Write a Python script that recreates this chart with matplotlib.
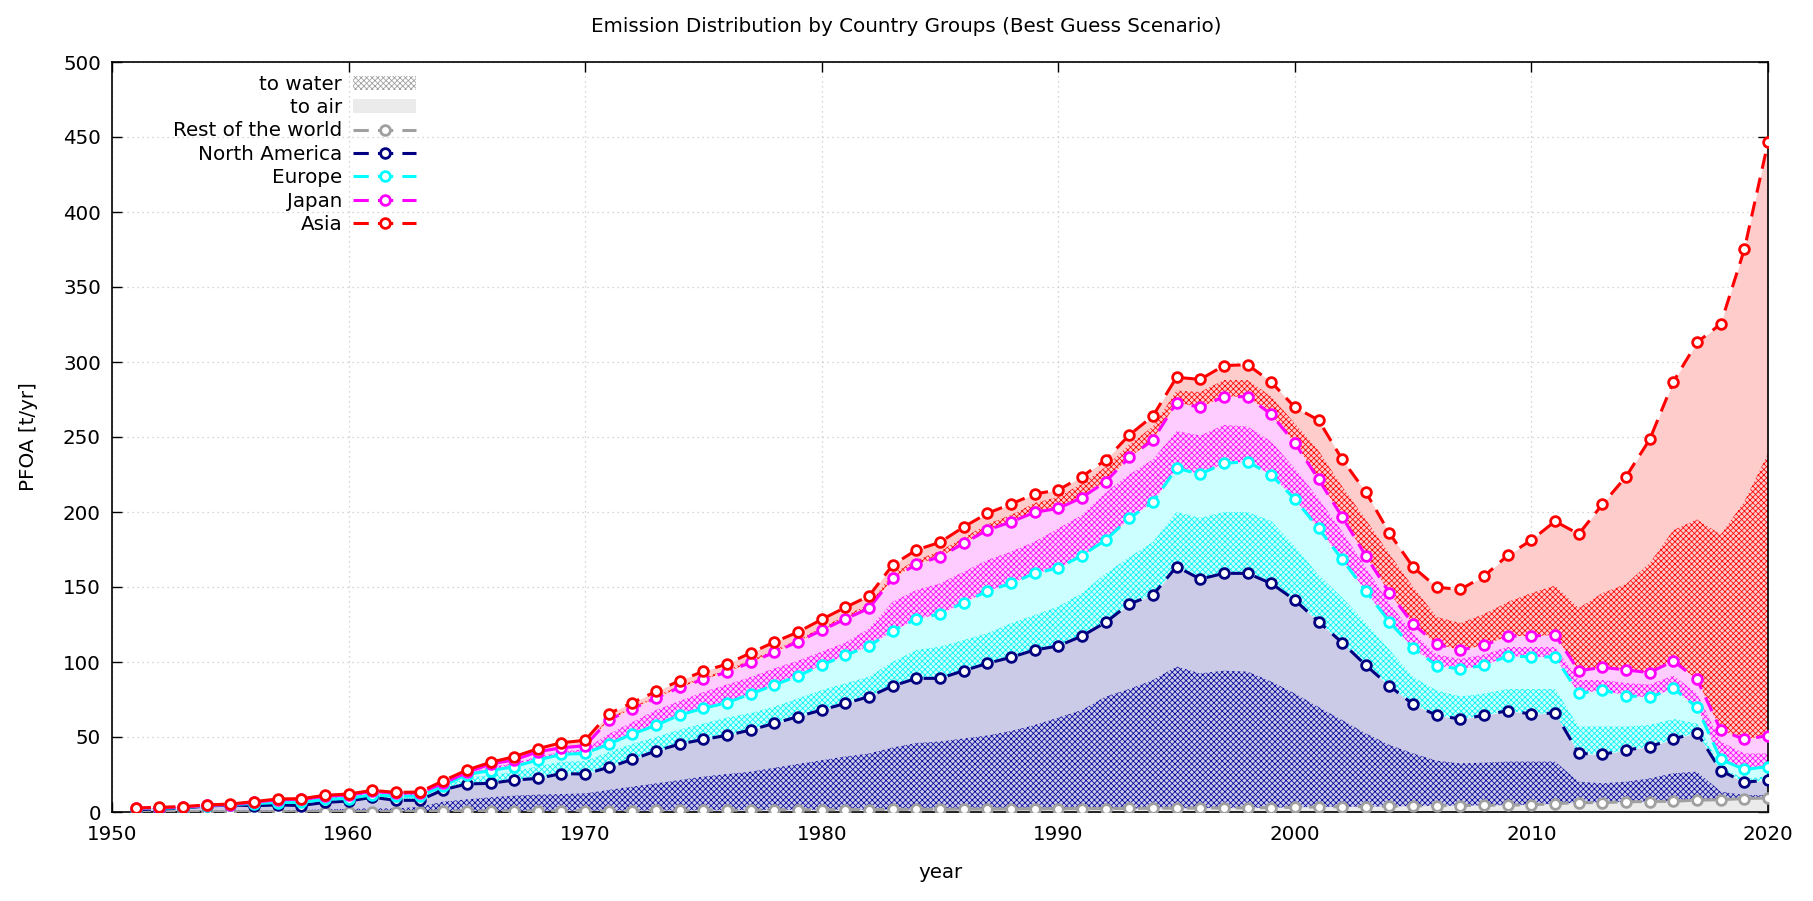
import numpy as np
import matplotlib
matplotlib.use("Agg")
import matplotlib.pyplot as plt
from matplotlib.patches import Patch
from matplotlib.lines import Line2D

# ------------------------------------------------------------
# Data (cumulative stacked values, t/yr), years 1951..2020
# ------------------------------------------------------------
years = np.arange(1951, 2021)

rest = [0.1, 0.1, 0.1, 0.2, 0.2, 0.2, 0.2, 0.2, 0.3, 0.3, 0.3, 0.3, 0.3,
        0.6, 0.7, 0.7, 0.8, 0.8, 0.9, 0.9, 1.0, 1.0, 1.1, 1.1, 1.2, 1.2, 1.3,
        1.4, 1.5, 1.5, 1.6, 1.6, 1.7, 1.8, 1.8, 1.9, 2.0, 2.0, 2.1, 2.2,
        2.3, 2.3, 2.4, 2.5, 2.6, 2.6, 2.7, 2.8, 2.9,
        3.2, 3.4, 3.5, 3.6, 3.8, 4.0, 4.2, 4.3, 4.5, 4.6,
        4.8, 5.6, 6.2, 6.3, 6.8, 7.0, 7.2, 7.9, 8.2, 9.0, 9.3]

north_america = [1.6, 2.0, 2.6, 4.0, 4.7, 4.2, 4.7, 4.3, 6.4, 7.3, 9.8, 7.8, 7.8,
                 14.8, 18.7, 19.1, 21.3, 22.4, 25.6, 25.3, 29.8, 35.1, 40.7, 45.3, 48.4, 51.1, 54.7,
                 59.1, 63.6, 68.0, 72.4, 76.9, 84.0, 89.1, 89.1, 94.2, 99.1, 103.1, 108.0, 110.7,
                 117.3, 126.4, 138.7, 144.7, 163.6, 155.3, 159.1, 159.1, 152.4,
                 141.3, 126.9, 112.9, 97.8, 84.0, 71.8, 64.4, 62.0, 64.4, 67.6,
                 65.3, 66.0, 39.1, 38.4, 41.3, 43.6, 48.7, 52.9, 27.6, 19.8, 21.3]

europe = [2.2, 2.5, 2.9, 4.3, 5.0, 5.6, 6.3, 6.4, 8.5, 9.0, 11.5, 10.5, 10.6,
          17.3, 25.0, 27.6, 30.2, 34.7, 38.4, 39.1, 45.3, 52.0, 57.8, 64.7, 69.1, 72.9, 78.7,
          84.7, 90.7, 98.0, 104.4, 110.7, 120.7, 128.7, 132.0, 139.6, 147.3, 152.4, 159.1, 162.7,
          171.0, 181.3, 195.8, 206.7, 229.1, 225.3, 232.4, 233.6, 224.7,
          208.6, 189.1, 168.4, 147.3, 126.7, 109.3, 97.6, 95.3, 97.8, 104.0,
          103.4, 103.4, 79.1, 81.3, 77.6, 76.4, 82.4, 69.8, 35.1, 28.4, 30.2]

japan = [2.5, 2.9, 3.3, 4.4, 5.0, 6.5, 8.2, 8.4, 10.5, 11.4, 13.8, 12.6, 12.8,
         19.1, 26.4, 32.0, 34.7, 40.2, 42.8, 44.2, 61.3, 68.9, 76.0, 83.1, 88.4, 93.3, 99.8,
         106.4, 113.6, 121.1, 128.7, 135.8, 155.8, 165.1, 170.2, 179.1, 188.0, 193.3, 199.8, 202.4,
         209.6, 220.2, 236.4, 248.0, 272.9, 269.8, 276.9, 276.9, 265.1,
         246.0, 221.8, 196.7, 170.7, 146.0, 125.3, 111.8, 108.0, 111.1, 117.3,
         117.3, 118.0, 94.2, 96.4, 94.7, 92.9, 100.7, 88.4, 54.7, 48.4, 50.9]

asia = [2.7, 3.1, 3.6, 4.7, 5.3, 6.9, 8.7, 8.9, 11.1, 12.0, 14.4, 13.1, 13.3,
        20.8, 28.0, 33.1, 36.9, 42.2, 46.2, 47.8, 65.6, 72.9, 80.4, 87.6, 93.8, 98.7, 106.1,
        113.3, 120.0, 128.4, 136.4, 144.0, 164.7, 174.7, 179.8, 190.0, 199.1, 205.3, 212.0, 214.7,
        223.6, 234.7, 251.3, 264.0, 289.8, 288.4, 297.6, 298.2, 286.7,
        269.8, 261.3, 235.1, 213.3, 185.8, 163.3, 149.8, 148.4, 157.3, 171.1,
        181.3, 193.8, 185.3, 205.1, 223.6, 248.4, 286.9, 313.1, 325.3, 375.1, 446.4]

# upper edge of the "to water" part inside each group's band (cumulative)
na_water = [0.5, 0.6, 0.7, 1.0, 1.1, 1.1, 1.3, 1.3, 1.8, 2.0, 2.5, 2.3, 3.5,
            6.9, 8.4, 9.8, 10.9, 11.6, 12.0, 12.4, 14.7, 16.9, 19.1, 21.3, 23.6, 25.3, 26.9,
            29.5, 32.0, 34.5, 37.0, 39.0, 43.0, 46.0, 47.0, 49.0, 51.0, 54.0, 58.0, 63.0,
            68.0, 77.0, 82.0, 88.0, 97.0, 92.4, 94.2, 93.6, 87.0,
            79.0, 70.0, 61.3, 52.4, 44.7, 39.1, 34.2, 32.4, 32.9, 33.6,
            33.6, 33.6, 20.2, 19.1, 20.2, 22.4, 25.8, 26.9, 13.6, 11.3, 11.3]

eu_water = [2.0, 2.3, 2.7, 4.2, 4.9, 5.0, 5.6, 5.5, 7.6, 8.3, 10.7, 9.3, 9.4,
            16.5, 23.0, 24.5, 27.0, 30.5, 33.5, 34.0, 40.0, 45.5, 50.0, 55.0, 59.0, 63.0, 66.0,
            70.2, 75.8, 81.3, 85.8, 90.2, 100.2, 108.0, 110.2, 114.7, 119.1, 125.8, 131.3, 137.0,
            146.0, 159.0, 170.0, 180.0, 200.0, 196.0, 200.0, 200.0, 194.0,
            177.0, 158.0, 143.0, 126.0, 108.0, 90.0, 81.0, 77.0, 79.0, 82.0,
            82.0, 82.0, 57.0, 57.0, 57.0, 58.0, 62.0, 59.0, 30.0, 22.0, 24.0]

jp_water = [2.4, 2.8, 3.2, 4.35, 5.0, 6.3, 7.8, 8.0, 10.0, 10.9, 13.2, 12.1, 12.3,
            18.5, 25.5, 30.0, 32.5, 37.0, 40.0, 42.0, 52.0, 60.0, 68.0, 74.0, 80.0, 85.0, 90.0,
            95.8, 100.9, 106.9, 112.9, 122.4, 140.2, 148.0, 152.4, 160.2, 168.0, 173.6, 180.2, 189.0,
            198.0, 213.0, 225.0, 235.0, 254.0, 251.0, 258.0, 257.0, 247.0,
            229.0, 209.0, 187.0, 163.0, 139.0, 119.0, 105.0, 102.0, 105.0, 110.0,
            110.0, 110.0, 88.0, 88.0, 86.0, 85.0, 91.0, 79.0, 47.0, 39.0, 39.0]

asia_water = [2.55, 2.95, 3.35, 4.45, 5.05, 6.6, 8.3, 8.5, 10.6, 11.5, 13.9, 12.7, 12.9,
              19.5, 26.8, 32.4, 35.2, 40.7, 43.5, 45.0, 62.5, 70.0, 77.2, 84.3, 89.7, 94.7, 101.5,
              108.0, 115.0, 123.0, 131.0, 138.5, 159.0, 168.0, 174.0, 183.0, 192.0, 198.0, 206.0, 210.0,
              219.0, 230.0, 245.0, 257.0, 281.0, 280.0, 288.0, 288.0, 277.0,
              259.0, 241.0, 217.0, 195.0, 172.0, 150.0, 130.0, 126.0, 132.0, 140.0,
              146.0, 151.0, 136.0, 146.0, 152.0, 166.0, 188.0, 195.0, 185.0, 207.0, 239.0]

# ------------------------------------------------------------
# Styling
# ------------------------------------------------------------
plt.rcParams['hatch.linewidth'] = 0.55
FS = 14.3
HATCH = 'xxxxxx'

groups = [
    # name, lower, upper, water top, line colour, hatch colour, light fill
    ('North America', rest, north_america, na_water, '#000080', '#00009a', '#cbcbe7'),
    ('Europe', north_america, europe, eu_water, '#00ffff', '#00f4f4', '#ccffff'),
    ('Japan', europe, japan, jp_water, '#ff00ff', '#ff00ff', '#ffccff'),
    ('Asia', japan, asia, asia_water, '#ff0000', '#ff0000', '#ffcccc'),
]

fig = plt.figure(figsize=(18.13, 9.01), dpi=100)
ax = fig.add_axes([112 / 1813, 1 - 812 / 901, 1656 / 1813, 750 / 901])

# bands: light fill for the whole band, hatch for the "to water" part
ax.fill_between(years, 0, rest, color='#ebebeb', lw=0, zorder=1)
for name, lo, hi, wat, col, hcol, light in groups:
    ax.fill_between(years, lo, hi, color=light, lw=0, zorder=1)
    ax.fill_between(years, lo, wat, facecolor='none', edgecolor=hcol,
                    hatch=HATCH, lw=0, zorder=2)

# lines with points
line_kw = dict(lw=2.2, dashes=(5, 3), marker='o', ms=7, mfc='white', mew=2.0, zorder=5)
ax.plot(years, rest, color='#a0a0a0', **line_kw)
for name, lo, hi, wat, col, hcol, light in groups:
    ax.plot(years, hi, color=col, **line_kw)

# axes
ax.set_xlim(1950, 2020)
ax.set_ylim(0, 500)
ax.set_xticks(np.arange(1950, 2021, 10))
ax.set_yticks(np.arange(0, 501, 50))
ax.tick_params(direction='in', length=7, width=1, top=True, right=True,
               labelsize=FS)
ax.tick_params(axis='x', pad=9)
ax.tick_params(axis='y', pad=8)
for sp in ax.spines.values():
    sp.set_linewidth(1.2)
ax.grid(True, color='#c8c8c8', lw=0.9, linestyle=(0, (1, 3)))
ax.set_axisbelow(True)

ax.set_xlabel('year', fontsize=FS, labelpad=14)
ax.set_ylabel('PFOA [t/yr]', fontsize=FS, labelpad=18)
fig.text(0.5, 1 - 26 / 901, 'Emission Distribution by Country Groups (Best Guess Scenario)',
         ha='center', va='center', fontsize=FS)

# legend
def lh(c):
    return Line2D([], [], color=c, lw=2.2, dashes=(5, 3), marker='o', ms=7,
                  mfc='white', mew=2.0)

handles = [
    Patch(facecolor='white', edgecolor='#9a9a9a', hatch=HATCH, lw=0),
    Patch(facecolor='#ebebeb', lw=0),
    lh('#a0a0a0'), lh('#000080'), lh('#00ffff'), lh('#ff00ff'), lh('#ff0000'),
]
labels = ['to water', 'to air', 'Rest of the world', 'North America',
          'Europe', 'Japan', 'Asia']
ax.legend(handles, labels, loc='upper right', bbox_to_anchor=((416 - 112) / 1656, 0.983),
          frameon=False, markerfirst=False, fontsize=FS, handlelength=3.15,
          handletextpad=0.56, labelspacing=0.22, borderpad=0, borderaxespad=0)

fig.savefig('out.png', dpi=100)
